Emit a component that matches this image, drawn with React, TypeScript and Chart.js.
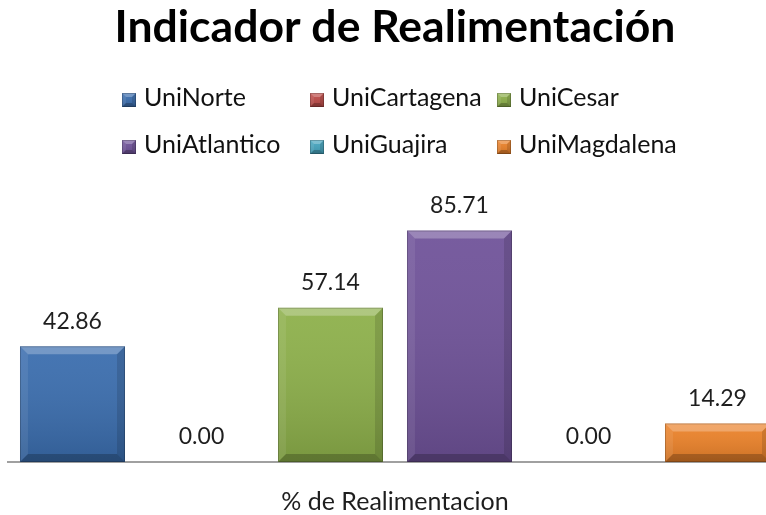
import React, { useEffect, useRef } from "react";
import { Chart, registerables } from "chart.js";

Chart.register(...registerables);

const titleText = "Indicador de Realimentación";
const categories = ["% de Realimentacion"];
const seriesNames = ["UniNorte", "UniCartagena", "UniCesar", "UniAtlantico", "UniGuajira", "UniMagdalena"];
const uniNorte = [42.86];
const uniCartagena = [0.0];
const uniCesar = [57.14];
const uniAtlantico = [85.71];
const uniGuajira = [0.0];
const uniMagdalena = [14.29];
const seriesValues = [uniNorte, uniCartagena, uniCesar, uniAtlantico, uniGuajira, uniMagdalena];
const seriesColors = ["#3A6DAE", "#BE4B48", "#8DB04A", "#6F5299", "#45A5BF", "#EC8229"];
const yMin = 0;
const yMax = 100;

const FONT = "Lato, 'Open Sans', sans-serif";

function poly(ctx: CanvasRenderingContext2D, pts: number[][], color: string) {
  ctx.beginPath();
  ctx.moveTo(pts[0][0], pts[0][1]);
  for (let i = 1; i < pts.length; i++) ctx.lineTo(pts[i][0], pts[i][1]);
  ctx.closePath();
  ctx.fillStyle = color;
  ctx.fill();
}

function drawBevel(ctx: CanvasRenderingContext2D, l: number, t: number, r: number, b: number, size: number) {
  const s = Math.min(size, (b - t) / 2, (r - l) / 2);
  ctx.save();
  const g = ctx.createLinearGradient(0, t, 0, b);
  g.addColorStop(0, "rgba(255,255,255,0.06)");
  g.addColorStop(1, "rgba(0,0,0,0.14)");
  ctx.fillStyle = g;
  ctx.fillRect(l, t, r - l, b - t);
  poly(ctx, [[l, t], [r, t], [r - s, t + s], [l + s, t + s]], "rgba(255,255,255,0.26)");
  poly(ctx, [[l, t], [l + s, t + s], [l + s, b - s], [l, b]], "rgba(255,255,255,0.08)");
  poly(ctx, [[r, t], [r, b], [r - s, b - s], [r - s, t + s]], "rgba(0,0,0,0.12)");
  poly(ctx, [[l, b], [l + s, b - s], [r - s, b - s], [r, b]], "rgba(0,0,0,0.22)");
  ctx.strokeStyle = "rgba(0,0,0,0.2)";
  ctx.lineWidth = 1;
  ctx.strokeRect(l + 0.5, t + 0.5, r - l - 1, b - t - 1);
  ctx.restore();
}

const barDecorPlugin = {
  id: "barDecor",
  afterDatasetsDraw(chart: any) {
    const ctx: CanvasRenderingContext2D = chart.ctx;
    chart.data.datasets.forEach((ds: any, di: number) => {
      const meta = chart.getDatasetMeta(di);
      meta.data.forEach((el: any, idx: number) => {
        const p = el.getProps(["x", "y", "base", "width"], true);
        const l = p.x - p.width / 2;
        const r = p.x + p.width / 2;
        if (p.base - p.y >= 1) drawBevel(ctx, l, p.y, r, p.base, 8);
        const v = ds.data[idx];
        ctx.save();
        ctx.font = `23px ${FONT}`;
        ctx.fillStyle = "#1e1e1e";
        ctx.textAlign = "center";
        ctx.textBaseline = "middle";
        ctx.fillText(Number(v).toFixed(2), p.x, p.y - 25);
        ctx.restore();
      });
    });
  },
};

const legendCols = [122, 310, 497];
const legendRows = [98, 145];

const gridLegendPlugin = {
  id: "gridLegend",
  afterDraw(chart: any) {
    const ctx: CanvasRenderingContext2D = chart.ctx;
    chart.data.datasets.forEach((ds: any, i: number) => {
      const x = legendCols[i % 3];
      const y = legendRows[Math.floor(i / 3)];
      const bs = 14;
      const by = y - 5;
      ctx.save();
      ctx.fillStyle = ds.backgroundColor;
      ctx.fillRect(x, by, bs, bs);
      drawBevel(ctx, x, by, x + bs, by + bs, 4);
      ctx.font = `25px ${FONT}`;
      ctx.fillStyle = "#111";
      ctx.textAlign = "left";
      ctx.textBaseline = "middle";
      ctx.fillText(ds.label, x + 22, y);
      ctx.restore();
    });
  },
};

export default function App() {
  const ref = useRef<HTMLCanvasElement | null>(null);
  useEffect(() => {
    if (!ref.current) return;
    const chart = new Chart(ref.current, {
      type: "bar",
      data: {
        labels: categories,
        datasets: seriesNames.map((name, i) => ({
          label: name,
          data: seriesValues[i],
          backgroundColor: seriesColors[i],
          borderWidth: 0,
          categoryPercentage: 1,
          barPercentage: 0.814,
        })),
      },
      options: {
        responsive: false,
        animation: false,
        devicePixelRatio: 1,
        layout: { padding: { left: 8, right: 4, top: 0, bottom: 0 } },
        plugins: {
          legend: { display: false },
          tooltip: { enabled: false },
          title: {
            display: true,
            text: titleText,
            color: "#000",
            font: { family: FONT, size: 44.5, weight: "bold", lineHeight: 1.2 },
            padding: { top: 1, bottom: 137.6 },
          },
        },
        scales: {
          x: {
            grid: { display: false, drawTicks: false, tickLength: 0 },
            border: { display: true, color: "#A0A0A0", width: 2 },
            ticks: {
              color: "#1e1e1e",
              padding: 25,
              font: { family: FONT, size: 25, lineHeight: 1.2 },
            },
            afterFit(scale: any) {
              scale.height = 53;
            },
          },
          y: {
            display: false,
            min: yMin,
            max: yMax,
          },
        },
      },
      plugins: [barDecorPlugin, gridLegendPlugin],
    });
    return () => chart.destroy();
  }, []);
  return (
    <div style={{ position: "fixed", left: 0, top: 0, width: 766, height: 515, overflow: "hidden", background: "#fff" }}>
      <canvas ref={ref} width={786} height={515} style={{ display: "block", width: 786, height: 515 }} />
    </div>
  );
}
